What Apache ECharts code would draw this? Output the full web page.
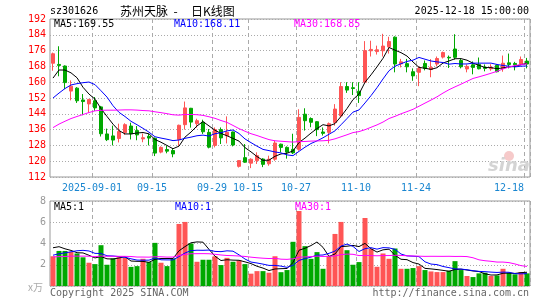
<!DOCTYPE html>
<html>
<head>
<meta charset="utf-8">
<script src="https://cdn.jsdelivr.net/npm/echarts@6/dist/echarts.min.js"></script>
<style>html,body{margin:0;padding:0;background:#fff;}#c{width:545px;height:300px;}</style>
</head>
<body>
<div id="c"></div>
<script>
// ---- data ----
const dates = ['2025-08-21','2025-08-22','2025-08-25','2025-08-26','2025-08-27','2025-08-28','2025-08-29',
'2025-09-01','2025-09-02','2025-09-03','2025-09-04','2025-09-05','2025-09-08','2025-09-09','2025-09-10','2025-09-11','2025-09-12',
'2025-09-15','2025-09-16','2025-09-17','2025-09-18','2025-09-19','2025-09-22','2025-09-23','2025-09-24','2025-09-25','2025-09-26',
'2025-09-29','2025-09-30','2025-10-09','2025-10-10','2025-10-13','2025-10-14','2025-10-15','2025-10-16','2025-10-17',
'2025-10-20','2025-10-21','2025-10-22','2025-10-23','2025-10-24','2025-10-27','2025-10-28','2025-10-29','2025-10-30','2025-10-31',
'2025-11-03','2025-11-04','2025-11-05','2025-11-06','2025-11-07','2025-11-10','2025-11-11','2025-11-12','2025-11-13','2025-11-14',
'2025-11-17','2025-11-18','2025-11-19','2025-11-20','2025-11-21','2025-11-24','2025-11-25','2025-11-26','2025-11-27','2025-11-28',
'2025-12-01','2025-12-02','2025-12-03','2025-12-04','2025-12-05','2025-12-08','2025-12-09','2025-12-10','2025-12-11','2025-12-12',
'2025-12-15','2025-12-16','2025-12-17','2025-12-18'];

const opens = [169.6,169.0,168.2,155.5,157.0,151.0,149.0,150.6,147.5,133.8,
132.8,131.5,134.5,137.8,135.5,131.3,132.6,131.6,124.6,125.9,
125.4,131.0,138.5,146.8,139.0,139.7,134.6,128.0,136.0,132.9,
134.8,117.4,121.8,119.0,120.3,121.1,118.7,121.0,128.6,127.0,
126.0,126.0,143.8,141.6,140.0,134.8,134.6,139.6,143.0,157.8,
157.2,155.4,160.0,175.9,175.5,175.9,177.9,182.8,169.3,169.4,
165.3,165.0,169.5,166.4,169.2,172.7,172.6,176.8,171.0,166.7,
168.8,169.0,167.6,166.8,168.6,167.0,169.8,169.5,169.2,170.7];

const closes = [174.4,168.5,159.8,158.0,150.6,150.2,151.3,147.0,133.9,130.9,
130.7,135.0,138.5,133.9,133.3,131.9,131.7,124.1,127.0,125.1,
123.7,138.2,147.0,139.8,140.5,134.9,127.1,136.0,131.8,134.6,
128.2,120.3,119.5,121.0,122.8,118.4,121.0,129.2,127.0,124.6,
124.2,142.2,140.5,139.7,136.0,134.1,139.0,146.4,157.8,156.0,
156.8,153.2,176.0,176.6,176.4,178.3,180.6,169.2,170.3,167.8,
163.2,167.0,167.0,167.5,172.0,175.0,172.3,172.6,167.8,168.0,
167.5,166.8,167.0,167.6,165.3,169.6,169.0,168.8,171.5,169.2];

const lows = [165.8,163.0,156.5,150.8,149.5,143.3,144.5,145.5,132.5,130.2,
128.0,129.5,133.3,131.0,130.6,129.6,128.0,122.6,124.0,124.0,
122.0,127.8,136.0,137.0,137.0,133.8,126.5,127.0,128.7,129.0,
127.5,116.8,119.2,116.5,118.6,117.0,117.7,120.2,124.5,121.3,
123.6,125.3,135.5,137.2,132.7,133.0,129.0,138.0,142.2,154.6,
153.5,149.5,159.8,173.0,174.0,173.0,174.5,165.0,167.5,165.0,
160.7,158.0,166.0,162.5,168.0,172.0,167.2,171.5,167.0,165.0,
164.0,166.5,165.5,165.8,165.0,165.3,167.0,166.0,168.6,167.0];

const highs = [175.0,178.2,168.5,160.9,157.5,154.0,151.5,152.5,148.0,136.5,
138.0,139.0,139.2,139.5,137.8,134.0,133.8,132.0,127.5,127.8,
126.5,138.5,150.2,147.0,141.5,141.0,136.3,137.1,137.1,142.7,
135.0,120.5,128.7,121.5,124.5,121.5,122.8,130.4,128.9,127.5,
133.9,146.3,146.8,142.2,140.3,137.1,139.6,148.9,160.0,160.0,
160.0,160.0,180.8,181.0,178.5,184.5,183.0,183.2,171.8,171.8,
167.0,168.0,171.0,171.7,173.0,175.5,173.5,184.3,172.0,169.0,
170.5,172.5,169.0,169.1,169.1,173.5,174.5,170.3,173.0,172.3];

// volume (x万)
const volumes = [2.8,3.3,3.3,3.2,3.06,2.7,2.19,2.06,3.84,2.0,
2.6,2.7,2.65,1.8,1.87,2.56,2.25,4.06,2.19,1.87,
2.6,5.84,6.03,4.0,2.28,2.47,2.47,2.8,1.97,2.65,
2.28,2.4,2.06,1.16,1.4,1.4,1.25,2.8,1.3,1.5,
4.16,7.06,3.75,2.56,3.19,1.62,2.8,4.9,6.03,3.37,
2.0,2.25,6.4,3.5,1.81,3.06,2.56,3.53,1.62,1.62,
1.69,1.87,1.5,1.37,1.31,1.31,1.44,2.34,1.5,0.94,
0.84,1.19,1.25,0.94,1.0,1.62,1.25,1.1,1.31,1.19];

// sessions before the visible window (only feed the moving averages)
const histCloses = [115,116.5,117,119,120.5,121,121.4,126,128.5,131,133,135.5,134,137,138.5,136,139,140,140.5,140.6,
143.5,136.8,140,144,145.3,148,160,165,163];
const histVolumes = [2.4,2.9,2.2,3.1,2.6,2.5,3.3,2.0,2.8,2.4,3.0,2.7,2.2,3.4,2.6,2.5,2.9,2.3,2.8,2.4,
2.0,2.4,2.2,2.1,2.3,2.8,4.3,3.95,4.15];

const tickDates = ['2025-09-01','2025-09-15','2025-09-29','2025-10-15','2025-10-27','2025-11-10','2025-11-24','2025-12-18'];
const priceTicks = [112,120,128,136,144,152,160,168,176,184,192];
const volTicks = [0,2,4,6,8];

const stockCode = 'sz301626';
const chartTitle = '苏州天脉  -     日K线图';
const stamp = '2025-12-18 15:00:00';
const priceMaText = ['MA5:169.55','MA10:168.11','MA30:168.85'];
const volMaText = ['MA5:1','MA10:1','MA30:1'];

// ---- helpers ----
function movingAvg(hist, arr, n){
  const all = hist.concat(arr);
  return arr.map((_, i) => {
    const end = hist.length + i;
    let s = 0;
    for (let k = end - n + 1; k <= end; k++) s += all[k];
    return +(s / n).toFixed(3);
  });
}
const UP = '#ff5555', DOWN = '#00a800';
const MONO = '"DejaVu Sans Mono", "Liberation Mono", monospace';
const kData = dates.map((d, i) => [opens[i], closes[i], lows[i], highs[i]]);
const volData = volumes.map((v, i) => ({value: v, itemStyle: {color: closes[i] >= opens[i] ? UP : DOWN}}));
const tickIdx = tickDates.map(d => dates.indexOf(d));
const isTick = (i) => tickIdx.indexOf(i) >= 0;

function xAxisBase(grid, showLabel){
  return {
    type: 'category', gridIndex: grid, data: dates, boundaryGap: true,
    axisLine: {show: false}, axisTick: {show: false},
    axisLabel: {
      show: showLabel, interval: (i) => isTick(i), color: '#1a86d0',
      fontFamily: MONO, fontSize: 10, margin: 6,
      formatter: (v) => {
        const idx = dates.indexOf(v);
        if (idx === tickIdx[0]) return '{n|' + v + '}';
        if (idx === dates.length - 1) return '{l|' + v.slice(5) + '}';
        return '{n|' + v.slice(5) + '}';
      },
      rich: {
        n: {padding: [0, 6, 0, 0], color: '#1a86d0', fontFamily: MONO, fontSize: 10},
        l: {padding: [0, 36, 0, 0], color: '#1a86d0', fontFamily: MONO, fontSize: 10}
      }
    },
    splitLine: {show: true, interval: (i) => isTick(i), lineStyle: {color: '#aaaaaa', type: [4, 3], width: 1}}
  };
}

const lineS = (name, data, color, xi, yi) => ({
  name, type: 'line', data, xAxisIndex: xi, yAxisIndex: yi, symbol: 'none', silent: true,
  lineStyle: {color, width: 1}, itemStyle: {color}, z: 5
});

const txt = (text, x, y, fill, font, align) => ({
  type: 'text', x, y, silent: true, z: 100,
  style: {text, fill, font, align: align || 'left', verticalAlign: 'middle', textAlign: align || 'left', textVerticalAlign: 'middle'}
});

const chart = echarts.init(document.getElementById('c'), null, {renderer: 'canvas', width: 545, height: 300});
chart.setOption({
  animation: false,
  backgroundColor: '#ffffff',
  grid: [
    {left: 50, top: 19, width: 480, height: 158, show: true, borderColor: '#999', borderWidth: 1, backgroundColor: 'transparent'},
    {left: 50, top: 201, width: 480, height: 85, show: true, borderColor: '#999', borderWidth: 1, backgroundColor: 'transparent'}
  ],
  xAxis: [xAxisBase(0, true), xAxisBase(1, false)],
  yAxis: [
    {type: 'value', gridIndex: 0, min: priceTicks[0], max: priceTicks[priceTicks.length - 1], interval: 8,
     axisLine: {show: false}, axisTick: {show: false},
     axisLabel: {color: '#ff0000', fontFamily: MONO, fontSize: 10, margin: 4},
     splitLine: {lineStyle: {color: '#aaaaaa', type: [1, 2], width: 1}}},
    {type: 'value', gridIndex: 1, min: volTicks[0], max: volTicks[volTicks.length - 1], interval: 2,
     axisLine: {show: false}, axisTick: {show: false},
     axisLabel: {color: '#999999', fontFamily: MONO, fontSize: 10, margin: 4, formatter: (v) => v === 0 ? '' : String(v)},
     splitLine: {lineStyle: {color: '#aaaaaa', type: [1, 2], width: 1}}}
  ],
  series: [
    {type: 'candlestick', name: 'K', xAxisIndex: 0, yAxisIndex: 0, data: kData, barWidth: 4,
     itemStyle: {color: UP, color0: DOWN, borderColor: UP, borderColor0: DOWN, borderWidth: 1}, z: 3},
    lineS('MA5', movingAvg(histCloses, closes, 5), '#000000', 0, 0),
    lineS('MA10', movingAvg(histCloses, closes, 10), '#0000ff', 0, 0),
    lineS('MA30', movingAvg(histCloses, closes, 30), '#ff00ff', 0, 0),
    {type: 'bar', name: 'VOL', xAxisIndex: 1, yAxisIndex: 1, data: volData, barWidth: 5, z: 3},
    lineS('VMA5', movingAvg(histVolumes, volumes, 5), '#000000', 1, 1),
    lineS('VMA10', movingAvg(histVolumes, volumes, 10), '#0000ff', 1, 1),
    lineS('VMA30', movingAvg(histVolumes, volumes, 30), '#ff00ff', 1, 1)
  ],
  graphic: [
    txt(stockCode, 50, 11, '#000', '10px ' + MONO),
    txt(chartTitle, 120, 11, '#000', '12px "Noto Sans CJK SC", sans-serif'),
    txt(stamp, 529, 11, '#000', '10px ' + MONO, 'right'),
    txt(priceMaText[0], 54, 24, '#000000', '10px ' + MONO),
    txt(priceMaText[1], 174, 24, '#0000ff', '10px ' + MONO),
    txt(priceMaText[2], 294, 24, '#ff00ff', '10px ' + MONO),
    txt(volMaText[0], 54, 207, '#000000', '10px ' + MONO),
    txt(volMaText[1], 175, 207, '#0000ff', '10px ' + MONO),
    txt(volMaText[2], 295, 207, '#ff00ff', '10px ' + MONO),
    txt('x万', 28, 287, '#aaaaaa', '10px "Noto Sans CJK SC", sans-serif'),
    txt('Copyright 2025 SINA.COM', 50, 293, '#666666', '10px ' + MONO),
    txt('http://finance.sina.com.cn', 529, 293, '#666666', '10px ' + MONO, 'right'),
    {type: 'circle', shape: {cx: 509, cy: 156, r: 5}, style: {fill: '#f6caca'}, silent: true, z: 1},
    txt('sina', 488, 166, '#d4d4d4', 'italic bold 18px "DejaVu Sans", sans-serif')
  ]
});
</script>
</body>
</html>
